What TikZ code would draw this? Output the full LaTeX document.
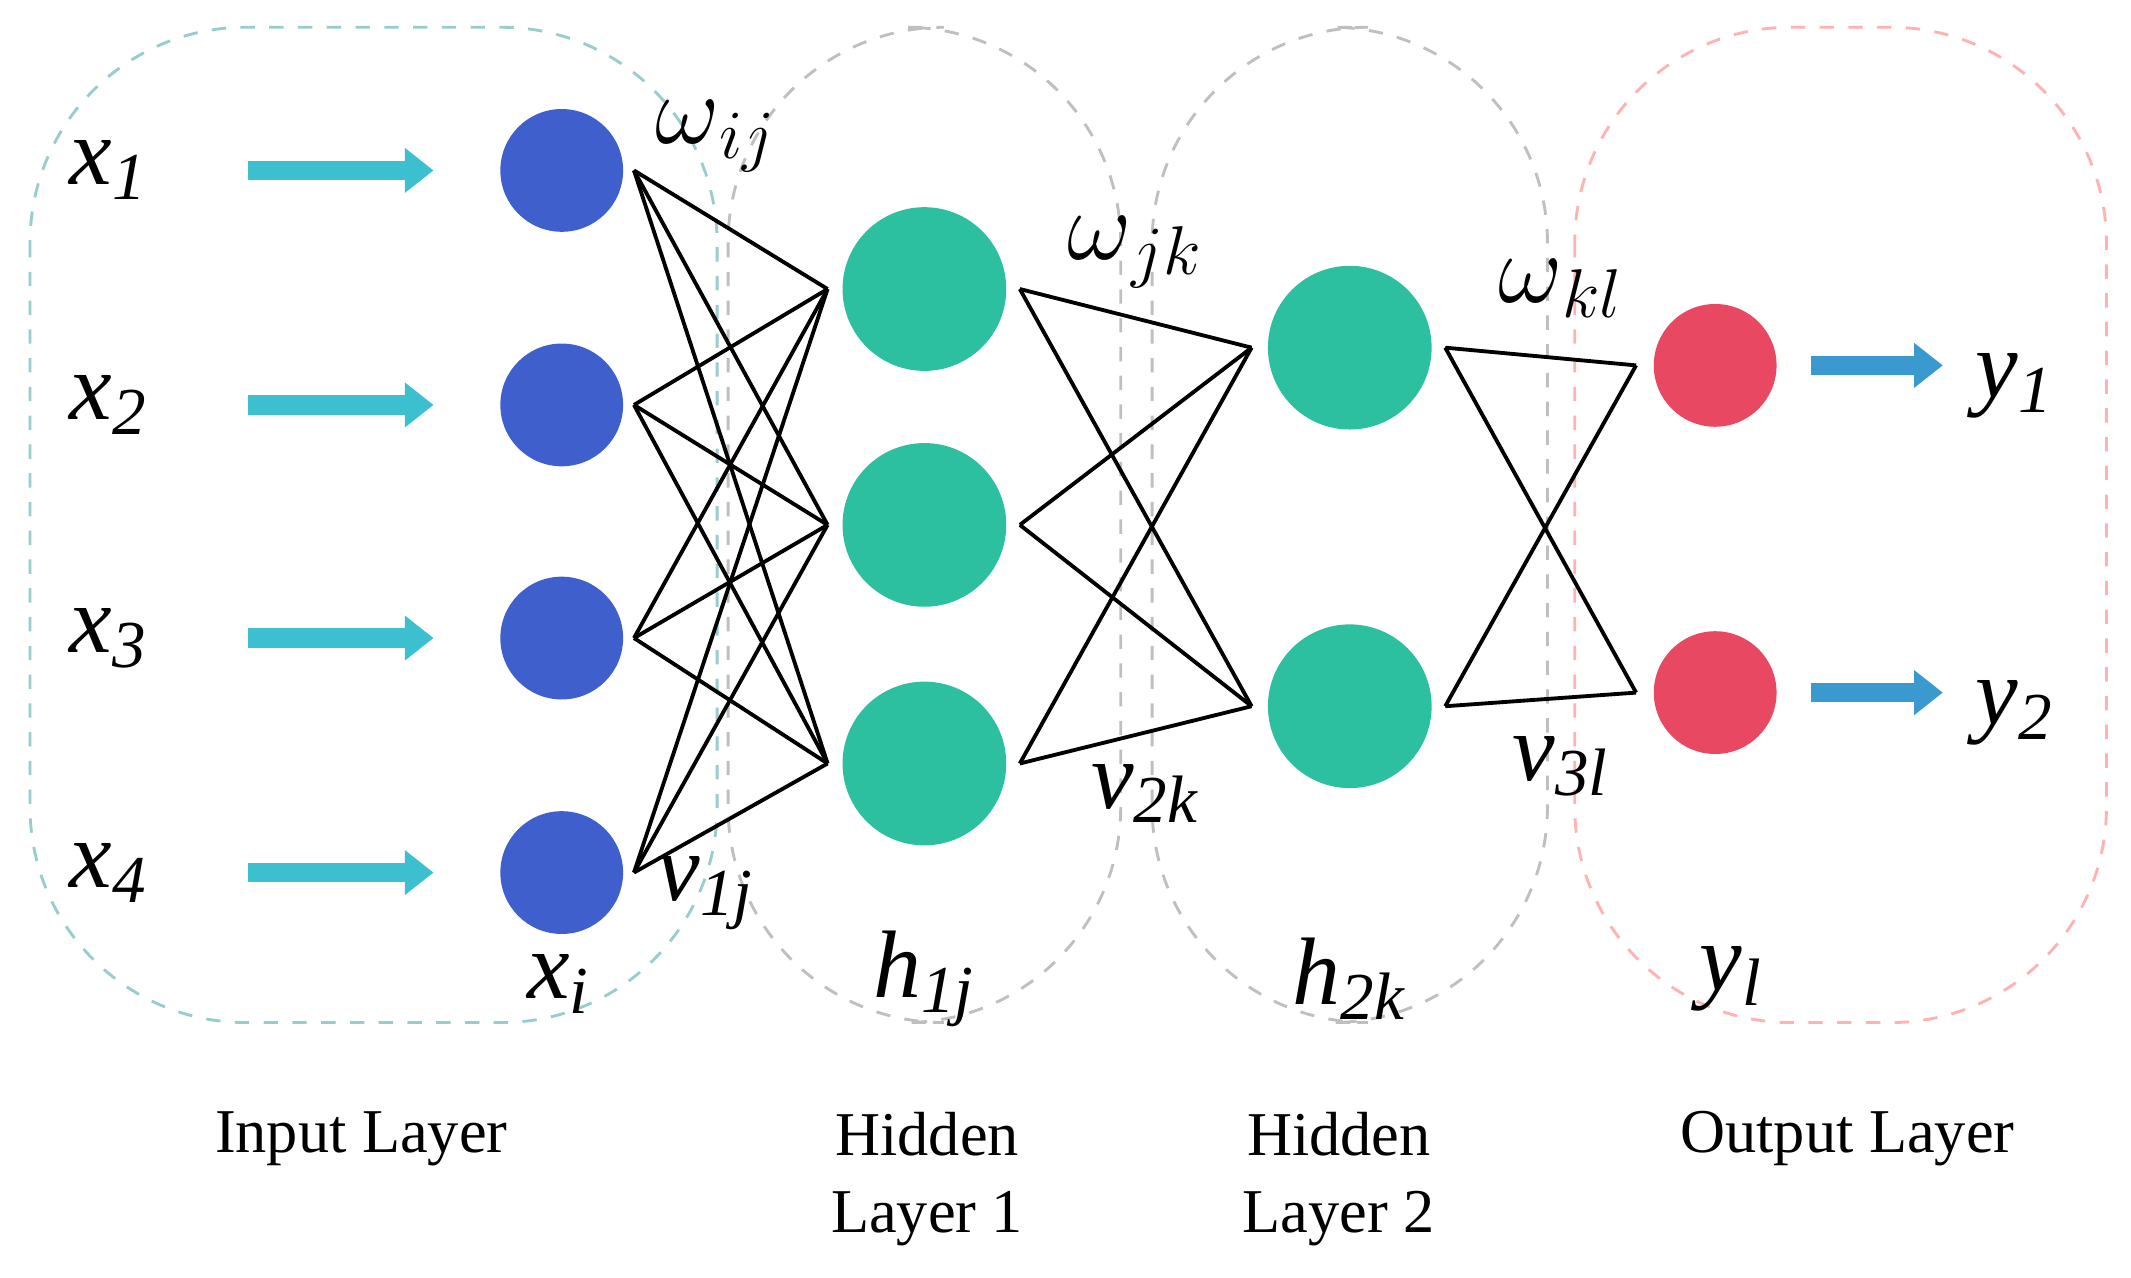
\documentclass[tikz,border=0pt]{standalone}
\usepackage{fontspec}
\setmainfont{Liberation Serif}
\usetikzlibrary{arrows.meta}
\definecolor{cblue}{HTML}{3F5FCC}
\definecolor{cteal}{HTML}{2DC0A0}
\definecolor{cred}{HTML}{E84862}
\definecolor{carr}{HTML}{3CC0D0}
\definecolor{coarr}{HTML}{3A9AD0}
\begin{document}
\begin{tikzpicture}[x=0.01cm,y=-0.01cm,
  box/.style={draw,dashed,rounded corners=45,line width=0.6pt},
  inn/.style={circle,fill=cblue,minimum size=0.9cm,inner sep=0},
  hid/.style={circle,fill=cteal,minimum size=1.2cm,inner sep=0},
  outn/.style={circle,fill=cred,minimum size=0.9cm,inner sep=0},
  arr/.style={-{Triangle[length=6pt,width=9pt]},line width=4pt,carr},
  oarr/.style={-{Triangle[length=6pt,width=9pt]},line width=4pt,coarr},
  lab/.style={font=\fontsize{20}{22}\selectfont\itshape},
  blab/.style={font=\fontsize{13}{16}\selectfont,align=center},
  w/.style={line width=0.8pt}]
\useasboundingbox (0,0) rectangle (1563,937);
\draw[box,teal!40] (22,20) rectangle (526,750);
\draw[box,gray!50] (534,20) rectangle (822,750);
\draw[box,gray!50] (845,20) rectangle (1135,750);
\draw[box,red!30] (1155,20) rectangle (1545,750);
\foreach \i/\y in {1/125,2/297,3/468,4/640}{
  \node[inn] (i\i) at (412,\y) {};
  \coordinate (ir\i) at (465,\y);
  \coordinate (a\i) at (182,\y); \coordinate (b\i) at (318,\y);
  \draw[arr] (a\i) -- (b\i);
  \node[lab] (x\i) at (80,\y) {x$_{\mathit{\i}}$};}
\foreach \j/\y in {1/212,2/385,3/560}{
  \node[hid] (h\j) at (678,\y) {};
  \coordinate (hl\j) at (607,\y); \coordinate (hr\j) at (748,\y);}
\foreach \k/\y in {1/255,2/518}{
  \node[hid] (g\k) at (990,\y) {};
  \coordinate (gl\k) at (918,\y); \coordinate (gr\k) at (1060,\y);}
\foreach \l/\y in {1/268,2/508}{
  \node[outn] (o\l) at (1258,\y) {};
  \coordinate (ol\l) at (1200,\y);
  \coordinate (c\l) at (1328,\y); \coordinate (d\l) at (1425,\y);
  \draw[oarr] (c\l) -- (d\l);
  \node[lab] (y\l) at (1478,\y+15) {y$_{\mathit{\l}}$};}
\foreach \i in {1,...,4}\foreach \j in {1,2,3}\draw[w] (ir\i) -- (hl\j);
\foreach \j in {1,2,3}\foreach \k in {1,2}\draw[w] (hr\j) -- (gl\k);
\foreach \k in {1,2}\foreach \l in {1,2}\draw[w] (gr\k) -- (ol\l);
\node[lab] (wij) at (525,100) {$\omega$$_{ij}$};
\node[lab] (wjk) at (833,185) {$\omega$$_{jk}$};
\node[lab] (wkl) at (1145,212) {$\omega$$_{kl}$};
\node[lab] (v1) at (518,655) {v$_{\mathit{1j}}$};
\node[lab] (v2) at (840,582) {v$_{\mathit{2k}}$};
\node[lab] (v3) at (1145,562) {v$_{\mathit{3l}}$};
\node[lab] (xi) at (410,722) {x$_{\mathit{i}}$};
\node[lab] (h1l) at (678,718) {h$_{\mathit{1j}}$};
\node[lab] (h2l) at (990,718) {h$_{\mathit{2k}}$};
\node[lab] (yl) at (1270,718) {y$_{\mathit{l}}$};
\node[blab] (L1) at (265,835) {Input Layer};
\node[blab] (L2) at (680,865) {Hidden\\Layer 1};
\node[blab] (L3) at (982,865) {Hidden\\Layer 2};
\node[blab] (L4) at (1355,835) {Output Layer};
\end{tikzpicture}
\end{document}
